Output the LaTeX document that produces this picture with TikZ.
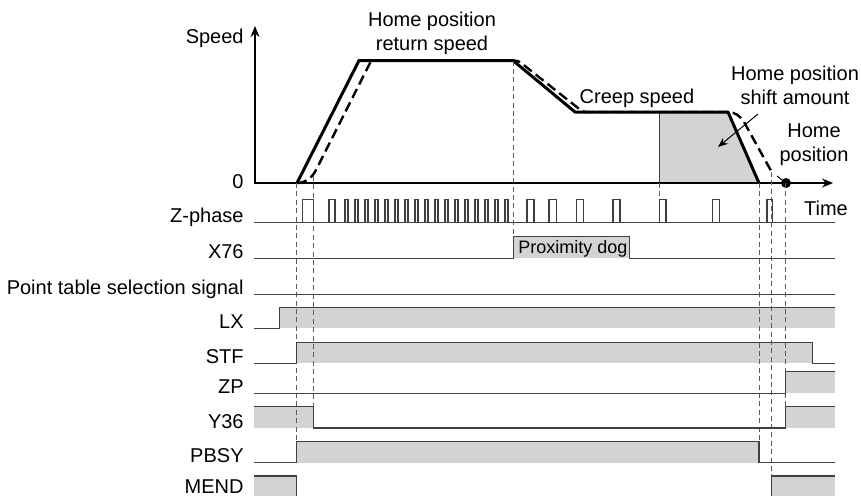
\documentclass[tikz,border=0pt]{standalone}
\usepackage{fontspec}
\setmainfont{Liberation Sans}
\usetikzlibrary{arrows.meta}
\definecolor{sigfill}{RGB}{209,211,212}
\definecolor{sigline}{RGB}{64,64,64}

\begin{document}
\begin{tikzpicture}[x=0.5pt, y=-0.5pt, >=Stealth,
    sig/.style={draw=sigline, line width=0.6pt},
    hi/.style={fill=sigfill},
    guide/.style={draw=sigline!85, line width=0.5pt, dash pattern=on 2.5pt off 1.7pt},
    lbl/.style={anchor=base east, inner sep=0pt}]
  \useasboundingbox (0,0) rectangle (861,495);
  \clip (0,0) rectangle (861,495);

  % Speed pattern
  \fill[hi] (659.3,112) -- (728,112) -- (759,183) -- (659.3,183) -- cycle;
  \draw[sig] (659.3,112) -- (659.3,183);
  \draw[line width=0.8pt, <->, >={Stealth[length=5.5pt,width=4.5pt]}]
    (255,26) -- (255,183) -- (833,183);
  \draw[line width=1.5pt, line join=round]
    (297,183) -- (359,60.5) -- (513,60.5) -- (575,112) -- (728,112) -- (759,183);
  \draw[line width=1.2pt, dash pattern=on 5pt off 2.5pt]
    (297,183) .. controls (305,183) and (312,178) .. (316,170) -- (370,63)
    .. controls (372,61) .. (377,60.5) -- (513,60.5)
    .. controls (518,60.5) and (521,62) .. (525,66) -- (578,108)
    .. controls (581,111) .. (586,112) -- (728,112)
    .. controls (735,112) and (740,116) .. (744,122) -- (771.7,172);
  \coordinate (homeDot) at (786,183);
  \fill (homeDot) circle (2.5pt);
  \draw[line width=0.5pt] ([shift={(-9,-7)}]homeDot) -- ([shift={(-4,-3)}]homeDot);
  \coordinate (shiftFrom) at (758,114);
  \coordinate (shiftTo) at (718,147);
  \draw[line width=0.5pt, ->, >={Stealth[length=5pt,width=4pt]}] (shiftFrom) -- (shiftTo);

  \node[lbl] (lSpeed) at (244,43.3) {Speed};
  \node[lbl] (lZero) at (244,188) {0};
  \node[align=center] (retSpd) at (432,33) {Home position\\return speed};
  \node (creep) at (637,98) {Creep speed};
  \node[align=center] (shiftAmt) at (795,85) {Home position\\shift amount};
  \node[align=center] (homePos) at (814,144.5) {Home\\position};
  \node (time) at (826,208) {Time};

  % High levels
  \fill[hi] (513.3,236.7) rectangle (629.3,258.3);
  \fill[hi] (279.3,307.3) rectangle (835,328.3);
  \fill[hi] (296.7,342.3) rectangle (812.3,363.3);
  \fill[hi] (785.7,371.7) rectangle (835,393.3);
  \fill[hi] (254,406.7) rectangle (313.3,428);
  \fill[hi] (785.7,406.7) rectangle (835,428);
  \fill[hi] (296.7,441.7) rectangle (759,462.7);
  \fill[hi] (254,476) rectangle (296.7,497);
  \fill[hi] (771.7,476) rectangle (835,497);

  % Timing guides
  \draw[guide] (296.7,183) -- (296.7,441.7);
  \draw[guide] (313.3,176) -- (313.3,406.7);
  \draw[guide] (513.3,60.5) -- (513.3,236.7);
  \draw[guide] (659.3,183) -- (659.3,199.3);
  \draw[guide] (759,183) -- (759,441.7);
  \draw[guide] (771.7,172) -- (771.7,476);
  \draw[guide] (785.7,183) -- (785.7,406.7);

  % Z-phase
  \node[lbl] (lZ) at (244,222.7) {Z-phase};
  \draw[sig] (254,222.7) -- (835,222.7);
  \foreach \a/\b in {302.7/313.3, 329/335, 527/534, 549/556.7, 576.7/583.3,
                     613/620, 659.3/666, 712.7/719.3, 767/772.7} {
    \draw[sig] (\a,222.7) -- (\a,199.3) -- (\b,199.3) -- (\b,222.7);
  }
  \foreach \a in {345,355,...,505} {
    \draw[sig] (\a,222.7) -- (\a,199.3) -- ({\a+3},199.3) -- ({\a+3},222.7);
  }

  % X76
  \node[lbl] (lX76) at (244,258.3) {X76};
  \draw[sig] (254,258.3) -- (513.3,258.3) -- (513.3,236.7) -- (629.3,236.7)
    -- (629.3,258.3) -- (835,258.3);
  \node[anchor=base west, inner sep=0pt, font=\small] (dog) at (518,253.3) {Proximity dog};

  % Point table selection signal
  \node[lbl] (lPT) at (244,294.3) {Point table selection signal};
  \draw[sig] (254,294.3) -- (835,294.3);

  % LX
  \node[lbl] (lLX) at (244,328.3) {LX};
  \draw[sig] (254,328.3) -- (279.3,328.3) -- (279.3,307.3) -- (835,307.3);

  % STF
  \node[lbl] (lSTF) at (244,363.3) {STF};
  \draw[sig] (254,363.3) -- (296.7,363.3) |- (812.3,342.3) -- (812.3,363.3) -- (835,363.3);

  % ZP
  \node[lbl] (lZP) at (244,393.3) {ZP};
  \draw[sig] (254,393.3) -- (785.7,393.3) |- (835,371.7);

  % Y36
  \node[lbl] (lY36) at (244,428) {Y36};
  \draw[sig] (254,406.7) -- (313.3,406.7) -- (313.3,428) -- (785.7,428) |- (835,406.7);

  % PBSY
  \node[lbl] (lPBSY) at (244,462.7) {PBSY};
  \draw[sig] (254,462.7) -- (296.7,462.7) |- (759,441.7) -- (759,462.7) -- (835,462.7);

  % MEND
  \node[lbl] (lMEND) at (244,493) {MEND};
  \draw[sig] (254,476) -- (296.7,476) -- (296.7,497) -- (771.7,497) |- (835,476);
\end{tikzpicture}
\end{document}
